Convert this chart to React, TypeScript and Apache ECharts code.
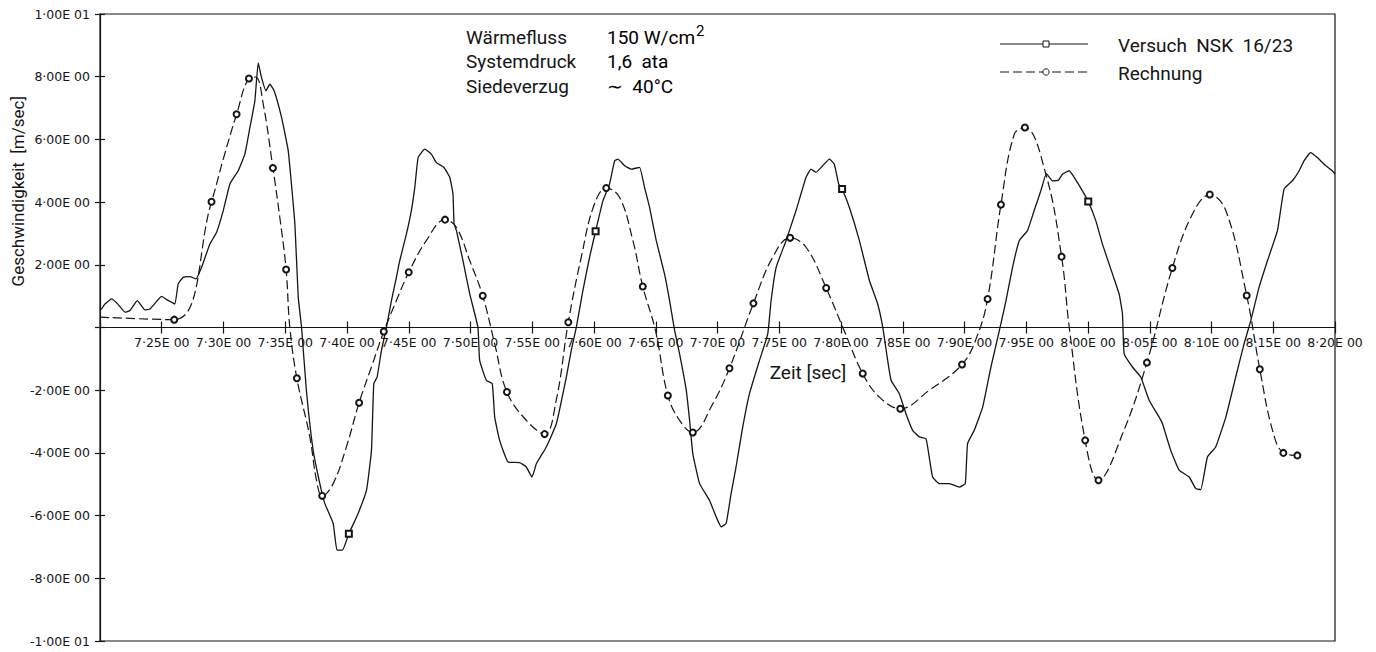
import { useEffect, useRef } from "react";
import * as echarts from "echarts";

// Axis ranges
const X_MIN = 7.2;
const X_MAX = 8.2;
const X_STEP = 0.05;
const Y_MIN = -10;
const Y_MAX = 10;
const Y_STEP = 2;

// Measured velocity (Versuch NSK 16/23)
const versuchT = [
  7.2, 7.2014, 7.204, 7.2094, 7.2148, 7.2202, 7.2243, 7.2302, 7.2364, 7.2405,
  7.2499, 7.2544, 7.2606, 7.2633, 7.2674, 7.2728, 7.2777, 7.2822, 7.289, 7.2944,
  7.2998, 7.3052, 7.3119, 7.3173, 7.3214, 7.3254, 7.3281, 7.3308, 7.3343, 7.3375,
  7.341, 7.347, 7.3524, 7.3578, 7.3605, 7.3632, 7.3671, 7.3726, 7.378, 7.382,
  7.3888, 7.3919, 7.3963, 7.4015, 7.409, 7.4158, 7.4198, 7.4217, 7.4244, 7.4279,
  7.432, 7.436, 7.44, 7.4427, 7.4481, 7.4521, 7.4549, 7.4576, 7.4629, 7.4683,
  7.4723, 7.4783, 7.4832, 7.4858, 7.4867, 7.4886, 7.4939, 7.4994, 7.506, 7.5074,
  7.5129, 7.5176, 7.5196, 7.5236, 7.5304, 7.5398, 7.5452, 7.5498, 7.5534, 7.5614,
  7.5695, 7.5776, 7.5816, 7.5857, 7.591, 7.5964, 7.6013, 7.6072, 7.6126, 7.6167,
  7.6193, 7.6248, 7.6301, 7.6369, 7.6409, 7.645, 7.6504, 7.6571, 7.6612, 7.6653,
  7.6693, 7.6747, 7.6774, 7.68, 7.6855, 7.6935, 7.6989, 7.703, 7.707, 7.711,
  7.715, 7.7204, 7.7259, 7.734, 7.7407, 7.7434, 7.7475, 7.7555, 7.7636, 7.7717,
  7.7757, 7.7798, 7.7851, 7.7906, 7.7946, 7.7981, 7.8009, 7.8068, 7.8149, 7.823,
  7.8297, 7.8338, 7.8378, 7.8406, 7.8472, 7.8526, 7.858, 7.8634, 7.8688, 7.871,
  7.8742, 7.8796, 7.8877, 7.8958, 7.9006, 7.9025, 7.9079, 7.9147, 7.9214, 7.9282,
  7.9336, 7.9389, 7.9443, 7.951, 7.9564, 7.9618, 7.9663, 7.9712, 7.9761, 7.9793,
  7.9848, 7.9888, 7.9955, 8.0002, 8.0063, 8.0117, 8.0198, 8.0252, 8.0279, 8.0293,
  8.036, 8.0427, 8.0495, 8.0576, 8.0603, 8.067, 8.0738, 8.0819, 8.0873, 8.0913,
  8.0967, 8.1034, 8.1116, 8.1196, 8.1264, 8.1318, 8.1385, 8.1453, 8.1534, 8.1588,
  8.1655, 8.171, 8.175, 8.1803, 8.1857, 8.1911, 8.1978, 8.2,
];
const versuchV = [
  0.55, 0.6, 0.75, 0.91, 0.73, 0.49, 0.54, 0.86, 0.56, 0.59,
  0.99, 0.88, 0.75, 1.39, 1.6, 1.62, 1.55, 1.92, 2.66, 3.04,
  3.73, 4.58, 5.0, 5.53, 6.38, 7.23, 8.44, 7.97, 7.55, 7.76,
  7.55, 6.7, 5.64, 3.3, 0.97, 0.01, -2.0, -3.92, -4.98, -5.61,
  -6.25, -7.1, -7.1, -6.58, -5.93, -5.19, -3.92, -1.79, -1.58, -0.73,
  0.01, 0.86, 1.6, 2.13, 2.98, 3.73, 4.47, 5.42, 5.69, 5.53,
  5.26, 5.11, 4.79, 4.26, 3.3, 3.09, 2.13, 1.07, 0.01, -1.05,
  -1.69, -1.79, -2.86, -3.6, -4.29, -4.31, -4.45, -4.77, -4.34, -3.81,
  -3.07, -1.58, -0.73, 0.01, 1.18, 2.24, 3.07, 4.04, 4.58, 5.32,
  5.37, 5.16, 5.05, 5.11, 4.47, 3.83, 2.77, 1.71, 0.86, -0.1,
  -0.84, -2.0, -2.96, -4.02, -4.98, -5.51, -6.04, -6.36, -6.25, -5.3,
  -4.45, -3.18, -2.11, -1.05, -0.2, 0.86, 1.92, 2.77, 3.73, 4.79,
  5.05, 4.95, 5.16, 5.37, 5.21, 4.58, 4.42, 3.83, 2.77, 1.5,
  0.75, 0.01, -1.05, -1.69, -2.11, -2.75, -3.28, -3.49, -3.55, -4.02,
  -4.77, -4.98, -4.98, -5.09, -4.98, -3.7, -3.28, -2.54, -1.26, -0.1,
  0.86, 1.92, 2.77, 3.09, 3.73, 4.36, 4.91, 4.68, 4.7, 4.89,
  5.0, 4.79, 4.36, 4.02, 3.41, 2.66, 1.71, 1.07, 0.44, -0.84,
  -1.26, -1.58, -2.32, -2.86, -3.07, -3.92, -4.55, -4.77, -5.14, -5.17,
  -4.13, -3.81, -2.86, -1.58, -0.52, 0.22, 1.28, 2.13, 3.09, 4.42,
  4.68, 5.0, 5.32, 5.58, 5.42, 5.21, 5.0, 4.89,
];
const versuchMarkerT = [7.4015, 7.6013, 7.8009, 8.0002];

// Calculated velocity (Rechnung)
const rechnungT = [
  7.2, 7.2601, 7.2903, 7.3, 7.3106, 7.3206, 7.326, 7.3322, 7.34,
  7.3456, 7.3507, 7.3537, 7.3594, 7.3699, 7.3753, 7.3799, 7.3888, 7.3995, 7.4098,
  7.4198, 7.4298, 7.44, 7.45, 7.4642, 7.4794, 7.4886, 7.4994, 7.5099, 7.5196,
  7.5295, 7.5452, 7.56, 7.5695, 7.5792, 7.59, 7.6, 7.6099, 7.6207, 7.6315,
  7.6395, 7.6498, 7.6598, 7.6693, 7.68, 7.6962, 7.7097, 7.7291, 7.7447, 7.7588,
  7.7717, 7.788, 7.8014, 7.8176, 7.8311, 7.848, 7.8715, 7.898, 7.91, 7.9187,
  7.9295, 7.9403, 7.9489, 7.9658, 7.9786, 7.9848, 7.9977, 8.0085, 8.028, 8.0477,
  8.0683, 8.0846, 8.0986, 8.1116, 8.1285, 8.1391, 8.1494, 8.1582, 8.1695,
];
const rechnungV = [
  0.33, 0.25, 4.01, 5.4, 6.8, 7.94, 7.99, 7.12, 5.09,
  3.51, 1.85, 0.01, -1.62, -3.49, -4.87, -5.37, -4.98, -3.81, -2.4,
  -1.26, -0.13, 0.86, 1.76, 2.77, 3.44, 3.19, 2.13, 1.01, -0.52,
  -2.06, -2.96, -3.4, -2.3, 0.17, 2.3, 3.9, 4.45, 4.15, 2.77,
  1.31, -0.1, -2.17, -2.96, -3.35, -2.43, -1.3, 0.77, 2.24, 2.86,
  2.56, 1.26, 0.01, -1.47, -2.22, -2.59, -2.0, -1.18, -0.3, 0.91,
  3.92, 6.17, 6.38, 4.9, 2.26, 0.01, -3.6, -4.87, -3.39, -1.12,
  1.9, 3.62, 4.24, 3.73, 1.02, -1.33, -3.28, -4.0, -4.08,
];
const rechnungMarkerT = [
  7.2601, 7.2903, 7.3106, 7.3206, 7.34, 7.3507, 7.3594, 7.3799, 7.4098, 7.4298,
  7.45, 7.4794, 7.5099, 7.5295, 7.56, 7.5792, 7.6099, 7.6395, 7.6598, 7.68,
  7.7097, 7.7291, 7.7588, 7.788, 7.8176, 7.848, 7.898, 7.9187, 7.9295, 7.9489,
  7.9786, 7.9977, 8.0085, 8.0477, 8.0683, 8.0986, 8.1285, 8.1391, 8.1582, 8.1695,
];

// Legend and annotation texts
const legendNames = ["Versuch  NSK  16/23", "Rechnung"];
const conditionLabels = ["Wärmefluss", "Systemdruck", "Siedeverzug"];
const conditionValues = ["{v|150 W/cm}{s|2}", "{v|1,6  ata}", "{v|∼  40°C}"];

const INK = "#151515";
const TEXT_FONT = "Roboto, 'Noto Sans', 'DejaVu Sans', sans-serif";
const TICK_FONT = "'DejaVu Sans', 'Liberation Sans', sans-serif";
const TICK_SIZE = 12.5;
const DASH = [9, 4];

function sciLabel(v: number): string {
  if (Math.abs(v) < 1e-9) return "";
  const sign = v < 0 ? "-" : "";
  let a = Math.abs(v);
  let e = 0;
  while (a >= 10 - 1e-9) {
    a /= 10;
    e++;
  }
  return `${sign}${a.toFixed(2).replace(".", "·")}E ${String(e).padStart(2, "0")}`;
}

function buildPoints(ts: number[], vs: number[], marks: number[], symbol: string) {
  return ts.map((t, i) => {
    const marked = marks.some((m) => Math.abs(m - t) < 1e-6);
    return { value: [t, vs[i]], symbol: marked ? symbol : "none" };
  });
}

function buildOption(): echarts.EChartsOption {
  const height = 652;
  const gridLeft = 100;
  const gridTop = 14;
  const gridRight = 41;
  const gridBottom = 11;
  const plotH = height - gridTop - gridBottom;
  // the time axis sits on v = 0; shift it up from the grid's bottom edge
  const zeroY = gridTop + (Y_MAX / (Y_MAX - Y_MIN)) * plotH;
  const xOffset = -(height - gridBottom - zeroY);

  const xBase = {
    type: "value" as const,
    min: X_MIN,
    max: X_MAX,
    interval: X_STEP,
    position: "bottom" as const,
    offset: xOffset,
    splitLine: { show: false },
  };
  const yBase = {
    type: "value" as const,
    min: Y_MIN,
    max: Y_MAX,
    interval: Y_STEP,
    position: "left" as const,
    splitLine: { show: false },
  };

  const legendX = 1000;
  const legendW = 88;
  const legendRows = [44, 72];

  const graphic: any[] = [
    {
      type: "text",
      x: 18,
      y: 96,
      rotation: Math.PI / 2,
      style: {
        text: "Geschwindigkeit  [m/sec]",
        font: `17px ${TEXT_FONT}`,
        fill: INK,
        align: "right",
        verticalAlign: "middle",
      },
    },
    {
      type: "text",
      x: 808,
      y: 372,
      style: {
        text: "Zeit [sec]",
        font: `19px ${TEXT_FONT}`,
        fill: INK,
        align: "center",
        verticalAlign: "middle",
      },
    },
  ];

  conditionLabels.forEach((label, i) => {
    const y = 37 + i * 24.5;
    graphic.push({
      type: "text",
      x: 466,
      y,
      style: { text: label, font: `19px ${TEXT_FONT}`, fill: INK, verticalAlign: "middle" },
    });
    graphic.push({
      type: "text",
      x: 607,
      y,
      style: {
        text: conditionValues[i],
        verticalAlign: "middle",
        rich: {
          v: { fontSize: 19, fontFamily: TEXT_FONT, color: INK },
          s: { fontSize: 15, fontFamily: TEXT_FONT, color: INK, padding: [0, 0, 12, 1] },
        },
      },
    });
  });

  legendNames.forEach((name, i) => {
    const y = legendRows[i];
    graphic.push({
      type: "line",
      shape: { x1: legendX, y1: y, x2: legendX + legendW, y2: y },
      style: { stroke: INK, lineWidth: 1.2, lineDash: i === 0 ? null : DASH },
    });
    if (i === 0) {
      graphic.push({
        type: "rect",
        shape: { x: legendX + 43, y: y - 3, width: 6, height: 6 },
        style: { fill: "#fff", stroke: INK, lineWidth: 1 },
      });
    } else {
      graphic.push({
        type: "circle",
        shape: { cx: legendX + 46, cy: y, r: 3.2 },
        style: { fill: "#fff", stroke: INK, lineWidth: 1 },
      });
    }
    graphic.push({
      type: "text",
      x: 1118,
      y: y + 1,
      style: { text: name, font: `19px ${TEXT_FONT}`, fill: INK, verticalAlign: "middle" },
    });
  });

  return {
    animation: false,
    backgroundColor: "#ffffff",
    grid: {
      left: gridLeft,
      top: gridTop,
      right: gridRight,
      bottom: gridBottom,
      show: true,
      borderColor: INK,
      borderWidth: 1.2,
      containLabel: false,
    },
    xAxis: [
      {
        ...xBase,
        axisLine: { show: true, onZero: false, lineStyle: { color: INK, width: 1.2 } },
        axisTick: { show: true, inside: false, length: 6, lineStyle: { color: INK, width: 1.2 } },
        axisLabel: {
          show: true,
          margin: 8,
          color: INK,
          fontSize: TICK_SIZE,
          fontFamily: TICK_FONT,
          showMinLabel: false,
          showMaxLabel: true,
          formatter: (v: number) => (v <= X_MIN + 1e-6 ? "" : sciLabel(v)),
        },
      },
      {
        ...xBase,
        axisLine: { show: false, onZero: false },
        axisTick: { show: true, inside: true, length: 6, lineStyle: { color: INK, width: 1.2 } },
        axisLabel: { show: false },
      },
    ],
    yAxis: [
      {
        ...yBase,
        axisLine: { show: true, onZero: false, lineStyle: { color: INK, width: 1.2 } },
        axisTick: { show: true, inside: false, length: 5, lineStyle: { color: INK, width: 1.2 } },
        axisLabel: {
          show: true,
          margin: 10,
          color: INK,
          fontSize: TICK_SIZE,
          fontFamily: TICK_FONT,
          formatter: (v: number) => sciLabel(v),
        },
      },
      {
        ...yBase,
        axisLine: { show: false, onZero: false },
        axisTick: { show: true, inside: true, length: 5, lineStyle: { color: INK, width: 1.2 } },
        axisLabel: { show: false },
      },
    ],
    graphic,
    series: [
      {
        name: legendNames[0],
        type: "line",
        xAxisIndex: 0,
        yAxisIndex: 0,
        data: buildPoints(versuchT, versuchV, versuchMarkerT, "emptyRect") as any,
        symbol: "emptyRect",
        symbolSize: 6,
        showSymbol: true,
        showAllSymbol: true,
        smooth: 0.12,
        lineStyle: { color: INK, width: 1.3 },
        itemStyle: { color: INK, borderColor: INK, borderWidth: 1 },
        z: 3,
      },
      {
        name: legendNames[1],
        type: "line",
        xAxisIndex: 0,
        yAxisIndex: 0,
        data: buildPoints(rechnungT, rechnungV, rechnungMarkerT, "emptyCircle") as any,
        symbol: "emptyCircle",
        symbolSize: 6,
        showSymbol: true,
        showAllSymbol: true,
        smooth: 0.4,
        lineStyle: { color: INK, width: 1.2, type: DASH },
        itemStyle: { color: INK, borderColor: INK, borderWidth: 1 },
        z: 4,
      },
    ],
  };
}

export default function App() {
  const ref = useRef<HTMLDivElement>(null);
  useEffect(() => {
    if (!ref.current) return;
    const chart = echarts.init(ref.current, null, { renderer: "svg" });
    chart.setOption(buildOption());
    return () => chart.dispose();
  }, []);
  return (
    <div
      ref={ref}
      style={{ position: "fixed", left: 0, top: 0, width: 1376, height: 652, background: "#fff" }}
    />
  );
}
